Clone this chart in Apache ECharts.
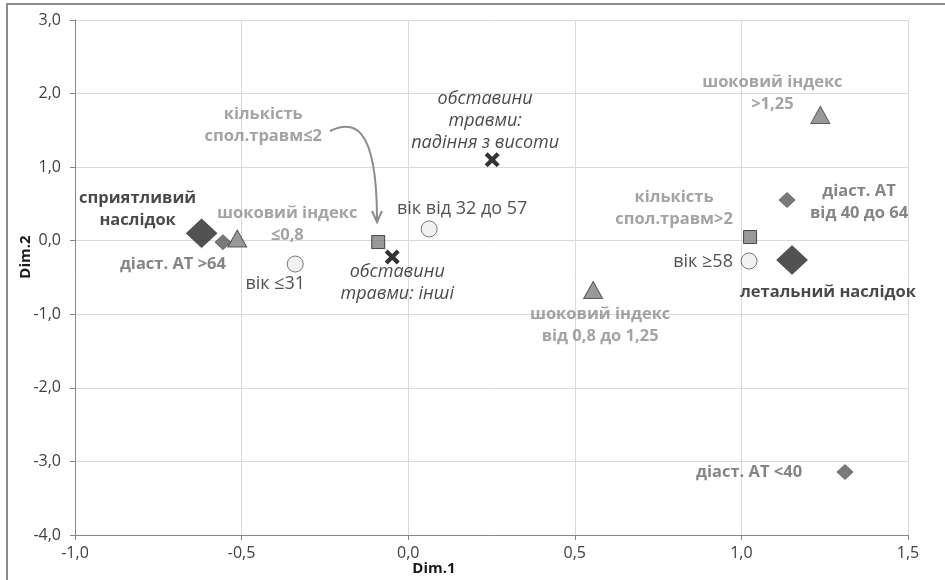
<!DOCTYPE html>
<html>
<head>
<meta charset="utf-8">
<script src="https://cdn.jsdelivr.net/npm/echarts@6/dist/echarts.min.js"></script>
<style>html,body{margin:0;padding:0;background:#fff}#c{width:945px;height:580px}</style>
</head>
<body>
<div id="c"></div>
<script>
// ---- data ----
const labels = [
  'сприятливий\nнаслідок',
  'діаст. АТ >64',
  'шоковий індекс\n≤0,8',
  'вік ≤31',
  'кількість\nспол.травм≤2',
  'обставини\nтравми: інші',
  'вік від 32 до 57',
  'обставини\nтравми:\nпадіння з висоти',
  'шоковий індекс\nвід 0,8 до 1,25',
  'шоковий індекс\n>1,25',
  'діаст. АТ\nвід 40 до 64',
  'кількість\nспол.травм>2',
  'вік ≥58',
  'летальний наслідок',
  'діаст. АТ <40'
];
const dim1 = [-0.62, -0.556, -0.513, -0.339, -0.09, -0.048, 0.063, 0.252, 0.555, 1.237, 1.137, 1.026, 1.023, 1.152, 1.311];
const dim2 = [0.10, -0.02, 0.03, -0.317, -0.018, -0.22, 0.16, 1.10, -0.67, 1.71, 0.553, 0.05, -0.276, -0.262, -3.144];
const groups = ['outcome','dbp','shock','age','injuries','circ','age','circ','shock','shock','dbp','injuries','age','outcome','dbp'];
const xTicks = [-1.0, -0.5, 0.0, 0.5, 1.0, 1.5];
const yTicks = [-4, -3, -2, -1, 0, 1, 2, 3];

// ---- layout / styles ----
const labelOffsets = [
  [-64, -24], [-50, 22], [50, -14], [-20, 20], [-115, -117], [5, 26], [33, -20], [-7, -39],
  [7, 35], [-48, -22], [72, 2], [-76, -29], [-46, 1], [36, 32], [-96, 0]
];
const xPath = 'path://M2,0 L5,3 L8,0 L10,2 L7,5 L10,8 L8,10 L5,7 L2,10 L0,8 L3,5 L0,2 Z';
const boldFont = {fontSize: 16.5, fontWeight: 'bold'};
const groupStyle = {
  outcome: {symbol: 'diamond', size: [31, 29], item: {color: '#262626', borderColor: '#1a1a1a', borderWidth: 0.5},
            label: Object.assign({color: '#1a1a1a'}, boldFont)},
  dbp: {symbol: 'diamond', size: [16, 15], item: {color: '#595959', borderColor: '#404040', borderWidth: 0.8},
        label: Object.assign({color: '#666666'}, boldFont)},
  shock: {symbol: 'triangle', size: [19, 17], item: {color: '#808080', borderColor: '#404040', borderWidth: 1},
          label: Object.assign({color: '#8c8c8c'}, boldFont)},
  age: {symbol: 'circle', size: 16, item: {color: '#eeeeee', borderColor: '#595959', borderWidth: 1},
        label: {color: '#262626', fontWeight: 'normal', fontSize: 18}},
  injuries: {symbol: 'rect', size: 13, item: {color: '#7f7f7f', borderColor: '#262626', borderWidth: 1},
             label: Object.assign({color: '#8c8c8c'}, boldFont)},
  circ: {symbol: xPath, size: 15, item: {color: '#000000'},
         label: {color: '#1a1a1a', fontWeight: 'normal', fontStyle: 'italic', fontSize: 18}}
};

const fmt = v => Number(v).toFixed(1).replace('.', ',');

const data = labels.map((t, i) => {
  const g = groupStyle[groups[i]];
  return {
    value: [dim1[i], dim2[i]],
    symbol: g.symbol,
    symbolSize: g.size,
    itemStyle: g.item,
    label: Object.assign({
      show: true, position: 'inside', offset: labelOffsets[i],
      formatter: t, lineHeight: 22,
      fontFamily: 'Open Sans', align: 'center', verticalAlign: 'middle'
    }, g.label)
  };
});

const chart = echarts.init(document.getElementById('c'), null, {renderer: 'canvas'});
chart.setOption({
  animation: false,
  backgroundColor: '#ffffff',
  grid: {left: 75, right: 37, top: 20, bottom: 45, containLabel: false},
  xAxis: {
    type: 'value', min: xTicks[0], max: xTicks[xTicks.length - 1], interval: 0.5,
    axisLine: {show: true, onZero: false, lineStyle: {color: '#868686', width: 1}},
    axisTick: {show: true, length: 5, lineStyle: {color: '#868686'}},
    axisLabel: {formatter: fmt, margin: 10, color: '#404040', fontSize: 16, fontFamily: 'Open Sans'},
    splitLine: {show: true, lineStyle: {color: '#d9d9d9', width: 1}}
  },
  yAxis: {
    type: 'value', min: yTicks[0], max: yTicks[yTicks.length - 1], interval: 1,
    axisLine: {show: true, onZero: false, lineStyle: {color: '#868686', width: 1}},
    axisTick: {show: true, length: 5, lineStyle: {color: '#868686'}},
    axisLabel: {formatter: fmt, margin: 14, color: '#404040', fontSize: 16, fontFamily: 'Open Sans'},
    splitLine: {show: true, lineStyle: {color: '#d9d9d9', width: 1}}
  },
  series: [{type: 'scatter', data: data, z: 5}],
  graphic: [
    {type: 'rect', shape: {x: 7, y: 4, width: 960, height: 600}, style: {fill: 'none', stroke: '#8c8c8c', lineWidth: 2}, z: 0, silent: true},
    {type: 'text', style: {text: 'Dim.1', x: 434, y: 569, align: 'center', verticalAlign: 'middle', font: 'bold 15px "Open Sans"', fill: '#1a1a1a'}},
    {type: 'text', rotation: Math.PI / 2, x: 26, y: 257, style: {text: 'Dim.2', x: 0, y: 0, align: 'center', verticalAlign: 'middle', font: 'bold 15px "Open Sans"', fill: '#1a1a1a'}},
    {type: 'bezierCurve', shape: {x1: 330, y1: 131, cpx1: 350, cpy1: 122, cpx2: 377, cpy2: 118, x2: 377, y2: 220},
     style: {stroke: '#8c8c8c', lineWidth: 2, fill: 'none'}, z: 10},
    {type: 'polyline', shape: {points: [[372, 211], [377, 222], [382, 211]]}, style: {stroke: '#8c8c8c', lineWidth: 2, fill: 'none'}, z: 10}
  ]
});
</script>
</body>
</html>
